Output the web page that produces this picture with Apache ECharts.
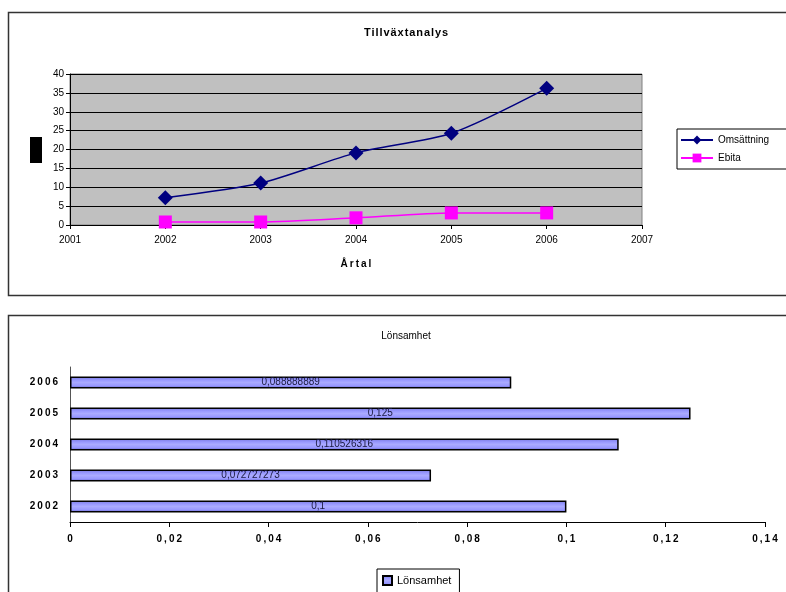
<!DOCTYPE html>
<html>
<head>
<meta charset="utf-8">
<script src="https://cdn.jsdelivr.net/npm/echarts@6/dist/echarts.min.js"></script>
<style>
  html, body { margin: 0; padding: 0; background: #fff; }
  #grafico { width: 786px; height: 592px; }
</style>
</head>
<body>
<div id="grafico"></div>
<script>
// Data
const years = [2002, 2003, 2004, 2005, 2006];
const omsattning = [7.2, 11.1, 19.1, 24.3, 36.2];
const ebita = [0.8, 0.8, 1.9, 3.2, 3.2];

const barYears = ['2002', '2003', '2004', '2005', '2006'];
const lonsamhet = [0.1, 0.072727273, 0.110526316, 0.125, 0.088888889];

const FONT = '"Liberation Sans", Arial, sans-serif';
const comma = v => String(v).replace('.', ',');
// spread letters a little, like the original's spaced-out labels
const spaced = (s, sep) => s.split('').join(sep || '\u200A');

const chartDom = document.getElementById('grafico');
const myChart = echarts.init(chartDom);

const option = {
    animation: false,
    textStyle: { fontFamily: FONT },
    title: [
        {
            text: spaced('Tillväxtanalys'),
            left: 401, top: 22, textAlign: 'center',
            textStyle: { fontSize: 11, fontWeight: 'bold', color: '#000', fontFamily: FONT }
        },
        {
            text: 'Lönsamhet',
            left: 401, top: 326, textAlign: 'center',
            textStyle: { fontSize: 10, fontWeight: 'normal', color: '#000', fontFamily: FONT }
        }
    ],
    legend: [
        {
            orient: 'vertical',
            left: 677, top: 129,
            padding: [6, 40, 6, 3],
            itemWidth: 32, itemHeight: 11, itemGap: 8,
            borderColor: '#000', borderWidth: 1,
            textStyle: { fontSize: 10, color: '#000', fontFamily: FONT },
            data: ['Omsättning', 'Ebita']
        },
        {
            left: 377, top: 569,
            padding: [6, 8, 10, 5],
            itemWidth: 9, itemHeight: 9,
            icon: 'rect',
            borderColor: '#000', borderWidth: 1,
            textStyle: { fontSize: 11, color: '#000', fontFamily: FONT },
            data: ['Lönsamhet']
        }
    ],
    graphic: [
        { type: 'rect', shape: { x: 8.5, y: 12.5, width: 800, height: 283 }, style: { fill: 'none', stroke: '#333', lineWidth: 1.5 }, z: -1 },
        { type: 'rect', shape: { x: 8.5, y: 315.5, width: 800, height: 300 }, style: { fill: 'none', stroke: '#333', lineWidth: 1.5 }, z: -1 },
        // y-axis title placeholder (shown as black box in the original)
        { type: 'rect', shape: { x: 30, y: 137, width: 12, height: 26 }, style: { fill: '#000' } }
    ],
    grid: [
        { left: 70, top: 74, width: 572, height: 151, show: true, backgroundColor: '#c0c0c0', borderColor: '#808080', borderWidth: 1 },
        { left: 70, top: 367, width: 695, height: 155 }
    ],
    xAxis: [
        {
            gridIndex: 0, type: 'value', min: 2001, max: 2007, interval: 1,
            name: spaced('Årtal', '\u2009'), nameLocation: 'middle', nameGap: 34,
            nameTextStyle: { fontSize: 10, fontWeight: 'bold', color: '#000', fontFamily: FONT },
            axisLine: { lineStyle: { color: '#000', width: 1 } },
            axisTick: { show: true, length: 4, lineStyle: { color: '#000' } },
            axisLabel: { fontSize: 10, color: '#000', margin: 10, formatter: v => String(v) },
            splitLine: { show: false }
        },
        {
            gridIndex: 1, type: 'value', min: 0, max: 0.14, interval: 0.02,
            axisLine: { show: true, lineStyle: { color: '#000', width: 1 } },
            axisTick: { show: true, length: 5, lineStyle: { color: '#000' } },
            axisLabel: { fontSize: 10, fontWeight: 'bold', color: '#000', margin: 12, formatter: v => spaced(comma(+v.toFixed(2)), '\u2009') },
            splitLine: { show: false }
        }
    ],
    yAxis: [
        {
            gridIndex: 0, type: 'value', min: 0, max: 40, interval: 5,
            axisLine: { show: true, lineStyle: { color: '#000', width: 1 } },
            axisTick: { show: true, length: 4, lineStyle: { color: '#000' } },
            axisLabel: { fontSize: 10, color: '#000', margin: 6 },
            splitLine: { show: true, lineStyle: { color: '#000', width: 1 } }
        },
        {
            gridIndex: 1, type: 'category', data: barYears,
            axisLine: { show: true, lineStyle: { color: '#555', width: 1 } },
            axisTick: { show: false },
            axisLabel: { fontSize: 10, fontWeight: 'bold', color: '#000', margin: 12, formatter: v => spaced(v, '\u2009') }
        }
    ],
    series: [
        {
            name: 'Omsättning', type: 'line',
            xAxisIndex: 0, yAxisIndex: 0,
            data: years.map((y, i) => [y, omsattning[i]]),
            smooth: 0.25,
            symbol: 'diamond', symbolSize: 15,
            lineStyle: { color: '#000080', width: 1.5 },
            itemStyle: { color: '#000080' }
        },
        {
            name: 'Ebita', type: 'line',
            xAxisIndex: 0, yAxisIndex: 0,
            data: years.map((y, i) => [y, ebita[i]]),
            smooth: 0.25,
            symbol: 'rect', symbolSize: 13,
            lineStyle: { color: '#ff00ff', width: 1.5 },
            itemStyle: { color: '#ff00ff' }
        },
        {
            name: 'Lönsamhet', type: 'bar',
            xAxisIndex: 1, yAxisIndex: 1,
            data: lonsamhet,
            barWidth: 12,
            itemStyle: {
                color: new echarts.graphic.LinearGradient(0, 0, 0, 1, [
                    { offset: 0, color: '#7777dd' },
                    { offset: 0.3, color: '#9999ff' },
                    { offset: 0.5, color: '#aaaaff' },
                    { offset: 0.75, color: '#9999ff' },
                    { offset: 1, color: '#6666cc' }
                ]),
                borderColor: '#000', borderWidth: 1.5
            },
            label: {
                show: true, position: 'inside',
                fontSize: 10, color: '#1a1a40', fontFamily: FONT,
                formatter: p => comma(p.value)
            }
        }
    ]
};

option && myChart.setOption(option);

window.addEventListener('resize', () => {
    myChart.resize();
});
</script>
</body>
</html>
